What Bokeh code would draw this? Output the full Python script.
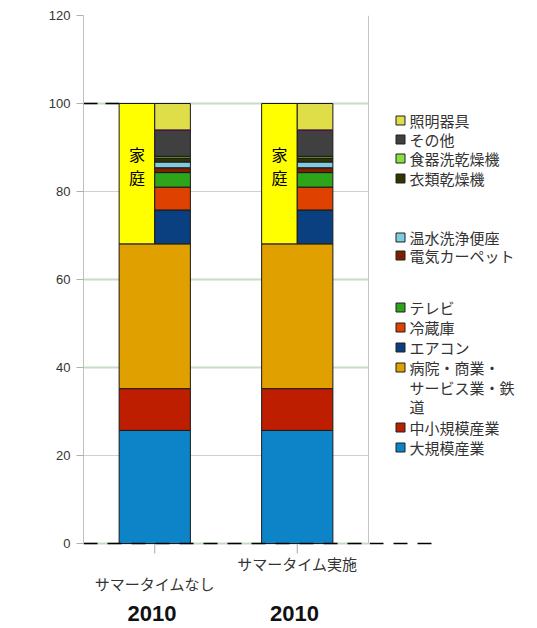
import numpy as np
from bokeh.plotting import figure
from bokeh.models import Range1d, FixedTicker, Grid
from bokeh.layouts import row
from bokeh.embed import file_html
from bokeh.resources import INLINE
from bokeh.core.properties import value

# ---------------- data ----------------
categories = ["サマータイムなし", "サマータイム実施"]
years = ["2010", "2010"]
y_ticks = [0, 20, 40, 60, 80, 100, 120]

large_industry = [25.7, 25.7]   # 大規模産業
small_industry = [9.5, 9.5]     # 中小規模産業
commercial = [32.9, 32.9]       # 病院・商業・サービス業・鉄道
aircon = [7.7, 7.7]             # エアコン
fridge = [5.2, 5.2]             # 冷蔵庫
tv = [3.3, 3.3]                 # テレビ
carpet = [1.1, 1.1]             # 電気カーペット
toilet = [1.3, 1.3]             # 温水洗浄便座
dryer = [0.9, 0.9]              # 衣類乾燥機
dishwasher = [0.4, 0.4]         # 食器洗乾燥機
other = [6.0, 6.0]              # その他
lighting = [6.0, 6.0]           # 照明器具

full_series = [
    ("大規模産業", large_industry, "#0d84c8"),
    ("中小規模産業", small_industry, "#be1e00"),
    ("病院・商業・\nサービス業・鉄\n道", commercial, "#dfa000"),
]
home_series = [
    ("エアコン", aircon, "#0a3f80"),
    ("冷蔵庫", fridge, "#df4100"),
    ("テレビ", tv, "#2ea41a"),
    ("電気カーペット", carpet, "#7c2000"),
    ("温水洗浄便座", toilet, "#7fcce0"),
    ("衣類乾燥機", dryer, "#333300"),
    ("食器洗乾燥機", dishwasher, "#88e040"),
    ("その他", other, "#404040"),
    ("照明器具", lighting, "#e0de48"),
]
home_label = "家\n庭"
home_color = "#ffff00"

FONT_LAT = "Liberation Sans"
FONT_JP = "Noto Sans CJK JP"

# ---------------- geometry ----------------
W_MAIN = 369
FRAME_TOP = 15
ZERO_PX = 543                       # pixel row of value 0
PX_PER_UNIT = (ZERO_PX - FRAME_TOP) / 120.0
Y_MIN = -(628 - ZERO_PX) / PX_PER_UNIT
PX_PER_X = 142.5
X_MAX = 2 + 1 / PX_PER_X


def below(px):
    """value for a row px pixels below the zero line"""
    return -px / PX_PER_UNIT


# ---------------- main chart ----------------
p = figure(width=W_MAIN, height=628, output_backend="svg", toolbar_location=None,
           x_range=Range1d(0, X_MAX), y_range=Range1d(Y_MIN, 120),
           x_axis_location=None,
           min_border_left=83, min_border_right=0, min_border_top=FRAME_TOP, min_border_bottom=0)
p.background_fill_color = "white"
p.border_fill_color = "white"
p.outline_line_color = None

xc = np.arange(len(categories)) + 0.5
bar_w = 0.5

# y axis
ya = p.yaxis[0]
ya.ticker = FixedTicker(ticks=y_ticks)
ya.bounds = (0, 120)
ya.axis_line_color = "#c0c0c0"
ya.major_tick_line_color = "#b0b0b0"
ya.major_tick_out = 7
ya.major_tick_in = 0
ya.minor_tick_line_color = None
ya.major_label_text_font = FONT_LAT
ya.major_label_text_font_size = "13px"
ya.major_label_text_color = "#333333"
ya.major_label_standoff = 6

# grids
p.xgrid.grid_line_color = None
p.ygrid.ticker = FixedTicker(ticks=[20, 80, 120])
p.ygrid.grid_line_color = "#cfcfcf"
p.ygrid.grid_line_width = 1
p.add_layout(Grid(dimension=1, ticker=FixedTicker(ticks=[0, 40, 60, 100]),
                  grid_line_color="#c5dcc5", grid_line_width=2))

# right border of the plot area
p.line(x=[2, 2], y=[0, 120], line_color="#c4c4c4", line_width=1)

# category ticks
p.segment(x0=xc, x1=xc, y0=np.zeros(len(xc)), y1=np.full(len(xc), below(10)),
          line_color="#a8a8a8", line_width=1)

# full-width stacked segments
bottom = np.zeros(len(categories))
for name, vals, col in full_series:
    v = np.array(vals, dtype=float)
    p.vbar(x=xc, width=bar_w, bottom=bottom, top=bottom + v,
           fill_color=col, line_color="#1a1a1a", line_width=1)
    bottom = bottom + v
home_base = bottom.copy()

# household total (left half)
home_total = np.sum([np.array(v, dtype=float) for _, v, _ in home_series], axis=0)
p.vbar(x=xc - bar_w / 4, width=bar_w / 2, bottom=home_base, top=home_base + home_total,
       fill_color=home_color, line_color="#1a1a1a", line_width=1)

# household breakdown (right half)
b = home_base.copy()
for name, vals, col in home_series:
    v = np.array(vals, dtype=float)
    p.vbar(x=xc + bar_w / 4, width=bar_w / 2, bottom=b, top=b + v,
           fill_color=col, line_color="#1a1a1a", line_width=1)
    if name == "その他":
        p.segment(x0=xc, x1=xc + bar_w / 2, y0=b + v, y1=b + v,
                  line_color="#800080", line_width=2)
    b = b + v

# 家庭 label
p.text(x=xc - bar_w / 4, y=home_base + home_total * 0.56, text=[home_label] * len(xc),
       text_font=value(FONT_JP), text_font_size="16px", text_color="#000000",
       text_align="center", text_baseline="middle", text_line_height=0.95)

# dashed reference lines
p.line(x=[0, X_MAX], y=[0, 0], line_color="#000000", line_width=1.5, line_dash="14 10")
p.segment(x0=[0], x1=[xc[0] - bar_w / 2], y0=[100], y1=[100],
          line_color="#000000", line_width=1.5, line_dash="14 8")

# category labels (staggered) and year labels
cat_px = [40, 20]
p.text(x=xc, y=[below(v) for v in cat_px], text=categories,
       text_font=value(FONT_JP), text_font_size="15px", text_color="#333333",
       text_align="center", text_baseline="middle")
p.text(x=xc - 0.02, y=[below(70)] * len(xc), text=years,
       text_font=value(FONT_LAT), text_font_style="bold", text_font_size="22px",
       text_color="#111111", text_align="center", text_baseline="middle")

# ---------------- legend panel ----------------
leg = figure(width=537 - W_MAIN, height=628, output_backend="svg", toolbar_location=None,
             x_range=Range1d(W_MAIN, 537), y_range=Range1d(628, FRAME_TOP),
             x_axis_location=None, y_axis_location=None,
             min_border_left=0, min_border_right=0, min_border_top=FRAME_TOP, min_border_bottom=0)
leg.grid.visible = False
leg.outline_line_color = None
leg.background_fill_color = "white"
leg.border_fill_color = "white"

legend_order = list(reversed(home_series))[:4] + [home_series[4], home_series[3]] + \
    [home_series[2], home_series[1], home_series[0]] + list(reversed(full_series))
legend_y = [120, 139, 158, 178, 237, 255, 307, 327, 347, 367, 427, 447]
LINE_STEP = 19.5

sq_x, sq_y, sq_c, tx, ty, tt = [], [], [], [], [], []
for (name, _, col), yy in zip(legend_order, legend_y):
    sq_x.append(400)
    sq_y.append(yy)
    sq_c.append(col)
    for k, part in enumerate(name.split("\n")):
        tx.append(409)
        ty.append(yy + k * LINE_STEP)
        tt.append(part)

leg.rect(x=sq_x, y=sq_y, width=9, height=9, fill_color=sq_c,
         line_color="#202020", line_width=1)
leg.text(x=tx, y=ty, text=tt, text_font=value(FONT_JP),
         text_font_size="15px", text_color="#333333", text_align="left",
         text_baseline="middle")

# continuation of the zero dashed line
leg.line(x=[W_MAIN, 431], y=[ZERO_PX, ZERO_PX], line_color="#000000",
         line_width=1.5, line_dash="14 10")

layout = row(p, leg)
open("out.html", "w").write(file_html(layout, INLINE))
